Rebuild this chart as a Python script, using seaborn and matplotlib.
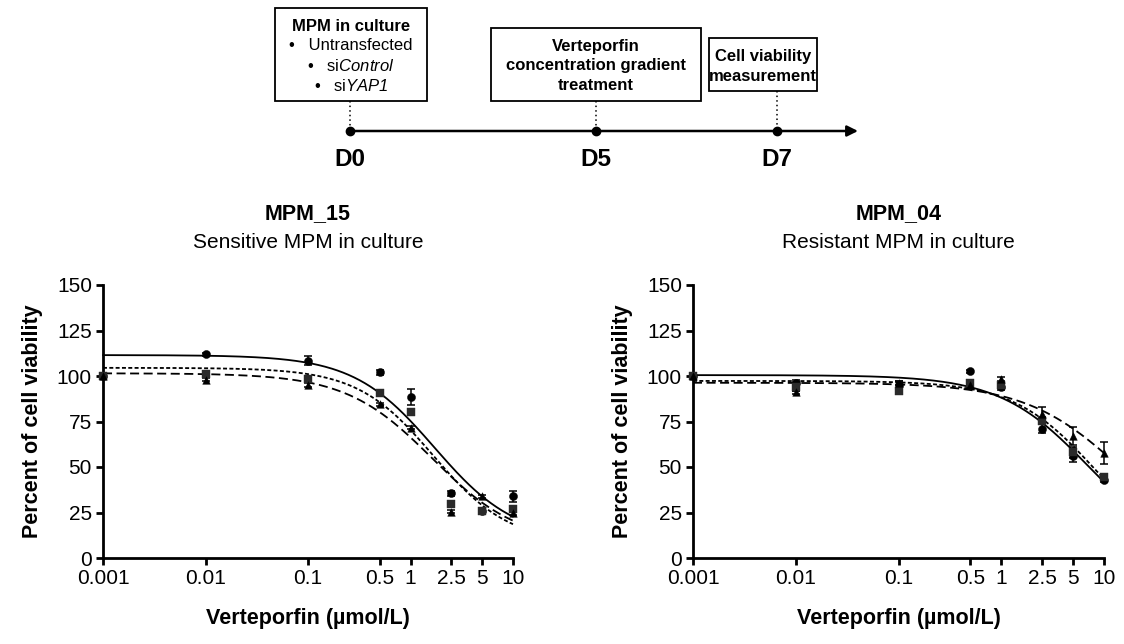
import numpy as np
import pandas as pd
import matplotlib
matplotlib.use("Agg")
import matplotlib.pyplot as plt
from matplotlib.patches import Rectangle
import seaborn as sns

# ---------------- data ----------------
doses = [0.001, 0.01, 0.1, 0.5, 1, 2.5, 5, 10]
dose_labels = ["0.001", "0.01", "0.1", "0.5", "1", "2.5", "5", "10"]
yticks = [0, 25, 50, 75, 100, 125, 150]

# MPM_15 (sensitive)
m15_untr = [100, 112, 108.5, 102, 88.5, 35.5, 26, 34]
m15_untr_err = [0, 0.8, 2.5, 1.5, 4.5, 1.5, 1, 3]
m15_ctrl = [100, 101, 98.5, 90.5, 80, 29.5, 26, 27]
m15_ctrl_err = [0, 0.8, 1, 0.8, 0.8, 1, 1, 1.5]
m15_yap = [100, 98, 95, 84.5, 71.5, 25.5, 34, 24.5]
m15_yap_err = [0, 1, 1, 0.8, 0.8, 1, 0.8, 1]

# MPM_04 (resistant)
m04_untr = [100, 96, 95, 102.5, 94, 71, 56, 43]
m04_untr_err = [0, 2, 2.5, 1, 1.5, 2.5, 3.5, 1.5]
m04_ctrl = [100, 94, 91.5, 96, 95, 75.5, 58, 44.5]
m04_ctrl_err = [0, 2.5, 1, 1.5, 1.5, 2, 3, 1.5]
m04_yap = [100, 91, 96, 95, 98.5, 79, 67, 57.5]
m04_yap_err = [0, 1, 1, 1, 1, 4, 5, 6]

# fitted 4-parameter logistic curves: (top, bottom, IC50, hill)
m15_fit = {"untr": (111.5, 10, 1.71, 1.10), "ctrl": (104.5, 8, 1.67, 1.17), "yap": (101.5, 8, 1.63, 1.03)}
m04_fit = {"untr": (100.5, 0, 7.1, 1.00), "ctrl": (97.3, 0, 8.2, 1.09), "yap": (96.3, 0, 15.5, 0.915)}

# timeline
tl_days = ["D0", "D5", "D7"]
box1_lines = ["MPM in culture", "•   Untransfected", r"•   si$Control$", r"•   si$YAP1$"]
box2_lines = ["Verteporfin", "concentration gradient", "treatment"]
box3_lines = ["Cell viability", "measurement"]

# ---------------- style ----------------
sns.set_theme(style="white")
plt.rcParams["font.family"] = ["Liberation Sans", "DejaVu Sans"]
plt.rcParams["mathtext.fontset"] = "custom"
plt.rcParams["mathtext.rm"] = "Liberation Sans:italic"
plt.rcParams["mathtext.it"] = "Liberation Sans:italic"
plt.rcParams["mathtext.default"] = "rm"
plt.rcParams["text.color"] = "black"
plt.rcParams["axes.labelcolor"] = "black"
plt.rcParams["xtick.color"] = "black"
plt.rcParams["ytick.color"] = "black"
plt.rcParams["xtick.bottom"] = True
plt.rcParams["ytick.left"] = True

W, H = 1124, 644
fig = plt.figure(figsize=(W / 100, H / 100), dpi=100)


def px_axes(x0, x1, ytop, ybot):
    return fig.add_axes([x0 / W, 1 - ybot / H, (x1 - x0) / W, (ybot - ytop) / H])


def hill(x, p):
    top, bot, ic, h = p
    return bot + (top - bot) / (1 + (x / ic) ** h)


styles = {
    "untr": dict(marker="o", ls="-", color="black", s=34),
    "ctrl": dict(marker="s", ls=(0, (2.2, 1.3)), color="#2a2a2a", s=32),
    "yap": dict(marker="^", ls=(0, (5, 2.5)), color="black", s=30),
}


def panel(ax, series, fits, title, subtitle):
    xg = np.logspace(-3, 1, 300)
    for key, (vals, errs) in series.items():
        st = styles[key]
        curve = pd.DataFrame({"x": xg, "y": hill(xg, fits[key])})
        sns.lineplot(data=curve, x="x", y="y", ax=ax, color="black",
                     linestyle=st["ls"], linewidth=1.3, clip_on=False, zorder=2)
        ax.errorbar(doses, vals, yerr=errs, fmt="none", ecolor="black",
                    elinewidth=1.1, capsize=3.2, capthick=1.1, zorder=3, clip_on=False)
        pts = pd.DataFrame({"x": doses, "y": vals})
        sns.scatterplot(data=pts, x="x", y="y", ax=ax, marker=st["marker"],
                        color=st["color"], s=st["s"], edgecolor=st["color"],
                        linewidth=0.3, zorder=4, clip_on=False)
    ax.set_xscale("log")
    ax.set_xlim(0.001, 10)
    ax.set_ylim(0, 150)
    ax.set_xticks(doses)
    ax.set_xticklabels(dose_labels)
    ax.xaxis.set_minor_locator(matplotlib.ticker.NullLocator())
    ax.set_yticks(yticks)
    ax.set_yticklabels([str(v) for v in yticks])
    for s in ["top", "right"]:
        ax.spines[s].set_visible(False)
    for s in ["left", "bottom"]:
        ax.spines[s].set_linewidth(2.0)
        ax.spines[s].set_color("black")
    ax.tick_params(axis="both", which="major", labelsize=15, colors="black",
                   direction="out", length=5, width=2, pad=3, bottom=True, left=True)
    ax.set_xlabel("Verteporfin (µmol/L)", fontsize=15.5, fontweight="bold", labelpad=14)
    ax.set_ylabel("Percent of cell viability", fontsize=15.5, fontweight="bold", labelpad=10)
    ax.text(0.5, 1.262, title, transform=ax.transAxes, ha="center", va="center",
            fontsize=15.5, fontweight="bold")
    ax.text(0.5, 1.155, subtitle, transform=ax.transAxes, ha="center", va="center",
            fontsize=15)


ax1 = px_axes(103, 513, 285, 558)
panel(ax1, {"untr": (m15_untr, m15_untr_err), "ctrl": (m15_ctrl, m15_ctrl_err),
            "yap": (m15_yap, m15_yap_err)}, m15_fit, "MPM_15", "Sensitive MPM in culture")
ax2 = px_axes(693, 1104, 285, 558)
panel(ax2, {"untr": (m04_untr, m04_untr_err), "ctrl": (m04_ctrl, m04_ctrl_err),
            "yap": (m04_yap, m04_yap_err)}, m04_fit, "MPM_04", "Resistant MPM in culture")

# ---------------- timeline (pixel coordinates overlay) ----------------
ov = fig.add_axes([0, 0, 1, 1], zorder=-1)
ov.set_xlim(0, W)
ov.set_ylim(H, 0)
ov.axis("off")

y_tl = 131
ov.annotate("", xy=(858, y_tl), xytext=(350, y_tl),
            arrowprops=dict(arrowstyle="-|>", color="black", lw=1.8,
                            mutation_scale=16, shrinkA=0, shrinkB=0))
day_x = [350, 596, 777]
box_bottoms = [101, 101, 91]
for dx, lab, bb in zip(day_x, tl_days, box_bottoms):
    ov.plot([dx, dx], [bb, y_tl], color="black", lw=1.1, ls=(0, (1, 2)))
    ov.plot([dx], [y_tl], marker="o", color="black", ms=6)
    ov.text(dx, 159, lab, ha="center", va="center", fontsize=17.5, fontweight="bold")

boxes = [(275, 8, 427, 101), (491, 28, 701, 101), (709, 38, 817, 91)]
for (x0, y0, x1, y1) in boxes:
    ov.add_patch(Rectangle((x0, y0), x1 - x0, y1 - y0, fill=True, facecolor="white",
                           edgecolor="black", lw=1.3, zorder=3))

b1_y = [26, 45.5, 66, 86]
for i, (t, yy) in enumerate(zip(box1_lines, b1_y)):
    ov.text(351, yy, t, ha="center", va="center", fontsize=12,
            fontweight="bold" if i == 0 else "normal", zorder=4)
for t, yy in zip(box2_lines, [46, 65.5, 85]):
    ov.text(596, yy, t, ha="center", va="center", fontsize=12, fontweight="bold", zorder=4)
for t, yy in zip(box3_lines, [56, 76]):
    ov.text(763, yy, t, ha="center", va="center", fontsize=12, fontweight="bold", zorder=4)

fig.savefig("out.png", dpi=100, facecolor="white")
